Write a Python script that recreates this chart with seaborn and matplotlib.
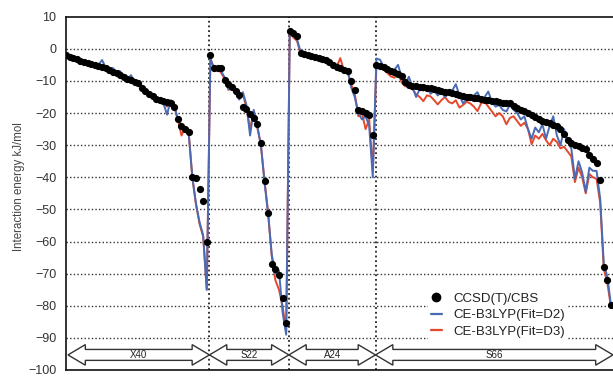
import numpy as np
import pandas as pd
import seaborn as sns
import matplotlib.pyplot as plt
from matplotlib.patches import Polygon
from matplotlib.lines import Line2D

# benchmark sets, in plotting order
set_names = ["X40", "S22", "A24", "S66"]

# reference values (black dots), kJ/mol
x40_ccsd = [-1.9, -2.4, -2.9, -3.3, -3.8, -4.2, -4.4, -4.8, -5.0, -5.2,
            -5.6, -6.0, -6.5, -7.2, -7.6, -8.0, -8.8, -9.4, -9.8, -10.2,
            -10.5, -12.3, -13.0, -14.0, -14.8, -15.5, -16.0, -16.3, -16.6, -17.0,
            -18.0, -22.0, -24.0, -25.0, -26.0, -40.0, -40.3, -43.6, -47.4, -60.0]
s22_ccsd = [-2.0, -6.0, -6.0, -6.0, -9.6, -11.0, -12.0, -13.2, -14.5, -18.0,
            -18.6, -20.4, -21.5, -23.5, -29.2, -41.0, -51.0, -67.0, -68.5, -70.5,
            -77.7, -85.4]
a24_ccsd = [5.4, 4.9, 4.0, -1.3, -1.7, -2.0, -2.2, -2.5, -2.8, -3.1,
            -3.4, -4.2, -5.0, -5.6, -6.1, -6.6, -6.8, -10.1, -12.9, -18.9,
            -19.4, -19.9, -20.7, -26.9]
s66_ccsd = [-5.0, -5.3, -5.7, -6.4, -6.9, -7.3, -7.8, -8.6, -10.4, -11.3,
            -11.6, -11.7, -11.8, -11.9, -12.1, -12.3, -12.5, -12.8, -13.1, -13.3,
            -13.6, -13.9, -14.2, -14.5, -14.8, -14.9, -15.0, -15.2, -15.4, -15.6,
            -15.9, -16.0, -16.2, -16.4, -16.6, -16.8, -16.9, -17.0, -17.8, -18.5,
            -19.0, -19.5, -19.9, -20.5, -21.2, -21.8, -22.4, -22.8, -23.2, -23.6,
            -24.1, -25.0, -26.6, -28.5, -29.2, -29.8, -30.3, -30.8, -31.2, -33.2,
            -34.4, -35.6, -40.8, -67.9, -72.0, -79.8]

# CE-B3LYP fitted with D2
x40_d2 = [-1.8, -2.3, -3.0, -3.2, -3.9, -4.0, -4.6, -4.7, -5.2, -5.0,
          -3.5, -5.8, -6.0, -6.0, -7.3, -7.0, -8.5, -9.6, -8.2, -10.5,
          -10.0, -12.0, -13.5, -13.5, -15.0, -16.0, -15.6, -17.0, -20.5, -16.0,
          -17.5, -22.5, -23.5, -24.8, -26.5, -40.0, -48.0, -54.0, -58.0, -75.0]
s22_d2 = [-3.0, -6.2, -5.8, -7.0, -9.0, -12.5, -12.5, -13.0, -15.8, -13.5,
          -17.5, -27.0, -19.0, -24.0, -30.0, -41.5, -51.5, -64.0, -70.0, -69.0,
          -82.0, -89.0]
a24_d2 = [6.0, 4.5, 3.0, -1.0, -1.5, -2.2, -2.0, -2.6, -2.6, -3.3,
          -3.0, -4.5, -4.8, -5.8, -6.0, -7.0, -6.5, -12.0, -15.0, -20.0,
          -22.0, -21.0, -24.0, -40.0]
s66_d2 = [-3.0, -3.4, -5.5, -6.0, -7.0, -6.5, -5.0, -9.0, -11.0, -8.7,
          -12.0, -15.0, -12.5, -13.0, -12.0, -14.0, -13.0, -14.5, -13.5, -15.0,
          -14.0, -13.0, -11.0, -14.5, -17.0, -15.5, -16.0, -14.5, -13.5, -16.0,
          -15.0, -13.3, -16.5, -18.0, -17.5, -19.0, -19.5, -17.5, -19.0, -20.0,
          -22.0, -21.0, -25.0, -28.0, -24.5, -26.0, -23.5, -28.0, -24.0, -21.0,
          -27.0, -30.0, -25.0, -29.0, -31.0, -40.5, -35.0, -38.5, -44.5, -37.0,
          -38.0, -38.0, -46.7, -67.0, -71.0, -80.0]

# CE-B3LYP fitted with D3
x40_d3 = [-1.8, -2.4, -3.0, -3.3, -3.8, -4.1, -4.5, -4.9, -5.1, -5.3,
          -5.5, -5.9, -6.2, -7.0, -7.5, -7.8, -8.3, -10.0, -8.8, -10.5,
          -10.3, -11.5, -13.2, -14.0, -15.2, -15.8, -16.2, -16.8, -18.0, -16.5,
          -17.8, -22.0, -27.0, -24.5, -26.2, -40.0, -48.5, -54.5, -58.5, -75.0]
s22_d3 = [-3.0, -6.0, -6.2, -7.5, -9.5, -12.8, -12.0, -14.0, -15.0, -14.0,
          -18.5, -25.0, -19.5, -24.5, -30.0, -41.0, -51.0, -64.5, -72.0, -75.0,
          -80.0, -88.0]
a24_d3 = [5.5, 3.5, 2.5, -1.5, -1.8, -2.0, -2.4, -2.4, -3.0, -3.0,
          -3.5, -4.3, -5.2, -5.5, -2.9, -6.8, -7.0, -11.0, -14.0, -21.0,
          -20.0, -25.0, -22.0, -38.0]
s66_d3 = [-5.5, -5.0, -6.5, -7.5, -8.6, -9.0, -7.5, -10.5, -11.7, -11.0,
          -12.5, -14.2, -15.0, -16.3, -14.5, -14.8, -16.0, -17.3, -16.0, -15.0,
          -16.5, -17.0, -16.0, -18.3, -17.5, -16.5, -17.0, -18.0, -19.4, -17.0,
          -16.5, -18.0, -19.5, -21.0, -20.0, -21.0, -23.5, -21.5, -21.0, -22.5,
          -24.0, -23.0, -25.0, -29.7, -27.0, -28.0, -26.5, -28.5, -30.0, -28.0,
          -29.0, -31.0, -30.5, -32.0, -33.5, -41.5, -37.0, -40.0, -45.0, -39.0,
          -40.0, -40.5, -48.0, -68.5, -73.0, -80.5]

sns.set_style("white")
plt.rcParams['font.family'] = ['Liberation Sans', 'DejaVu Sans']

ccsd = x40_ccsd + s22_ccsd + a24_ccsd + s66_ccsd
d2 = x40_d2 + s22_d2 + a24_d2 + s66_d2
d3 = x40_d3 + s22_d3 + a24_d3 + s66_d3
sizes = [len(x40_ccsd), len(s22_ccsd), len(a24_ccsd), len(s66_ccsd)]

df = pd.DataFrame({"idx": np.arange(len(ccsd)), "ccsd": ccsd, "d2": d2, "d3": d3})

fig = plt.figure(figsize=(6.13, 3.77), dpi=100)
ax = fig.add_axes([66 / 613, 7 / 377, 547 / 613, 353.3 / 377])

blue = "#4a6bb4"
red = "#e5482b"
sns.lineplot(data=df, x="idx", y="d3", color=red, lw=1.4, ax=ax, zorder=3)
sns.lineplot(data=df, x="idx", y="d2", color=blue, lw=1.4, ax=ax, zorder=4)
sns.scatterplot(data=df, x="idx", y="ccsd", color="black", s=27, linewidth=0, ax=ax, zorder=5)

xmax = len(ccsd) - 1 + 0.55
ax.set_xlim(0, xmax)
ax.set_ylim(-100, 10)
ax.set_yticks(range(10, -101, -10))
ax.set_xticks([])
ax.set(xlabel=None)
ax.set_ylabel("Interaction energy kJ/mol", fontsize=8.3, color="#444")
ax.yaxis.set_label_coords(-0.075, 0.52)
ax.tick_params(axis="y", length=0, pad=7, labelsize=9, labelcolor="#333")

# dotted horizontal grid
for v in range(0, -100, -10):
    ax.axhline(v, color="#333", ls=(0, (1, 1.6)), lw=1.0, zorder=1)

for side in ["left", "top", "bottom"]:
    ax.spines[side].set_color("#111")
    ax.spines[side].set_linewidth(1.2)
ax.spines["right"].set_visible(False)

# set boundaries
edges = np.concatenate([[0.55], np.cumsum(sizes)[:-1] - 0.25, [xmax]])
for b in edges[1:-1]:
    ax.axvline(b, color="#222", ls=(0, (1, 1.6)), lw=1.3, zorder=2)

# double-headed block arrows with set names
yc, hh, sh, hl = -95.3, 3.2, 1.7, 4.8
for name, x0, x1 in zip(set_names, edges[:-1], edges[1:]):
    pts = [(x0, yc), (x0 + hl, yc + hh), (x0 + hl, yc + sh), (x1 - hl, yc + sh),
           (x1 - hl, yc + hh), (x1, yc), (x1 - hl, yc - hh), (x1 - hl, yc - sh),
           (x0 + hl, yc - sh), (x0 + hl, yc - hh)]
    ax.add_patch(Polygon(pts, closed=True, facecolor="white", edgecolor="#333",
                         lw=1.0, zorder=6, clip_on=False))
    ax.text((x0 + x1) / 2, yc, name, ha="center", va="center", fontsize=7,
            color="#222", zorder=7)

handles = [Line2D([], [], marker="o", color="black", ls="", markersize=6),
           Line2D([], [], color=blue, lw=1.6),
           Line2D([], [], color=red, lw=1.6)]
labels = ["CCSD(T)/CBS", "CE-B3LYP(Fit=D2)", "CE-B3LYP(Fit=D3)"]
leg = ax.legend(handles, labels, loc="center", bbox_to_anchor=(0.79, 0.155),
                fontsize=9.5, frameon=True, facecolor="white", edgecolor="none",
                framealpha=1, handlelength=0.8, handletextpad=0.9,
                labelspacing=0.33, borderpad=0.2)
leg.set_zorder(8)
for t in leg.get_texts():
    t.set_color("#222")

fig.savefig("out.png", dpi=100)
